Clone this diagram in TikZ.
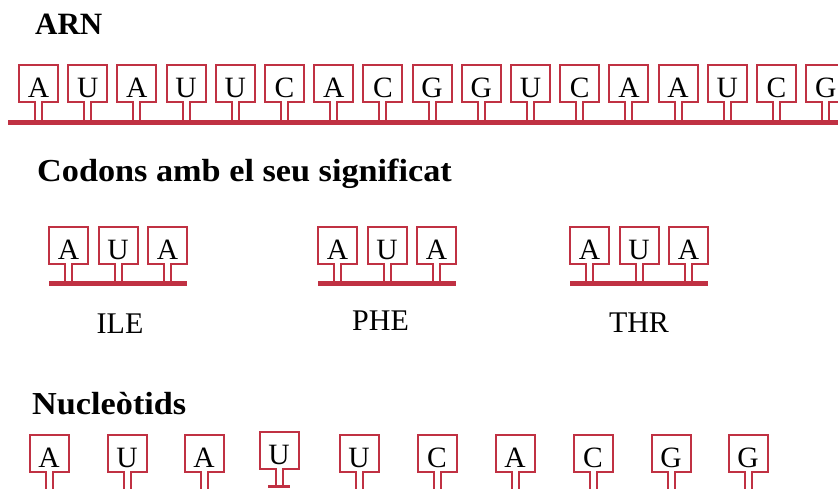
\documentclass[tikz,border=0pt]{standalone}
\usepackage{fontspec}
\setmainfont{Liberation Serif}
\newfontfamily\headfont{Liberation Serif}[FakeStretch=1.07]
\definecolor{rnared}{RGB}{192,49,67}
\tikzset{
  nucl/.style={minimum width=39pt, minimum height=37pt, inner sep=0pt, outer sep=0pt,
    text height=28pt, text depth=0pt, font=\fontsize{29.5}{29.5}\selectfont},
  nline/.style={draw=rnared, line width=2pt, line join=miter},
  bbone/.style={fill=rnared, draw=none, inner sep=0pt, outer sep=0pt, minimum height=5pt},
  heading/.style={font=\headfont\bfseries\fontsize{32}{32}\selectfont, anchor=base west, inner sep=0pt},
  aalabel/.style={font=\fontsize{30}{30}\selectfont, anchor=base, inner sep=0pt},
}
\newcommand\nucdraw[2]{%
  \draw[nline] ([xshift=-3.5pt]#1.south |- #2) -- ([xshift=-3.5pt]#1.south)
    -- (#1.south west) -- (#1.north west) -- (#1.north east) -- (#1.south east)
    -- ([xshift=3.5pt]#1.south) -- ([xshift=3.5pt]#1.south |- #2);}
\begin{document}
\begin{tikzpicture}[x=1pt,y=-1pt]
\useasboundingbox (0,0) rectangle (838,489);

% ARN
\node[heading, font=\bfseries\fontsize{31}{31}\selectfont] (hARN) at (35,35) {ARN};
\node[bbone, minimum width=840pt, anchor=west] (bb) at (8,122.5) {};
\foreach \l [count=\i from 0] in {A,U,A,U,U,C,A,C,G,G,U,C,A,A,U,C,G}{
  \node[nucl] (t\i) at ({38.5+49.2*\i},84) {\l};
  \nucdraw{t\i}{bb.north}
}

% Codons
\node[heading] (hCod) at (37,182) {Codons amb el seu significat};
\node[bbone, minimum width=138pt] (c1b) at (118,283.5) {};
\node[bbone, minimum width=138pt] (c2b) at (387,283.5) {};
\node[bbone, minimum width=138pt] (c3b) at (639,283.5) {};
\foreach \g/\x in {1/68.5,2/337.5,3/589.5}{
  \foreach \l [count=\j from 0] in {A,U,A}{
    \node[nucl] (c\g n\j) at ({\x+49.5*\j},245.5) {\l};
    \nucdraw{c\g n\j}{c\g b.north}
  }
}
\node[aalabel] (ile) at (120,333) {ILE};
\node[aalabel] (phe) at (380.5,330) {PHE};
\node[aalabel] (thr) at (639,332) {THR};

% Nucleotids
\node[heading] (hNuc) at (32,414) {Nucleòtids};
\coordinate (nbot) at (0,492);
\foreach \l/\x in {A/49,U/127,A/204,U/359,C/437,A/515,C/593,G/671,G/748}{
  \node[nucl] (n\x) at (\x,453.5) {\l};
  \nucdraw{n\x}{nbot}
}
\node[bbone, minimum width=22pt, minimum height=3pt] (ubar) at (279,486.5) {};
\node[nucl] (nU) at (279,450.5) {U};
\nucdraw{nU}{ubar.north}
\end{tikzpicture}
\end{document}
